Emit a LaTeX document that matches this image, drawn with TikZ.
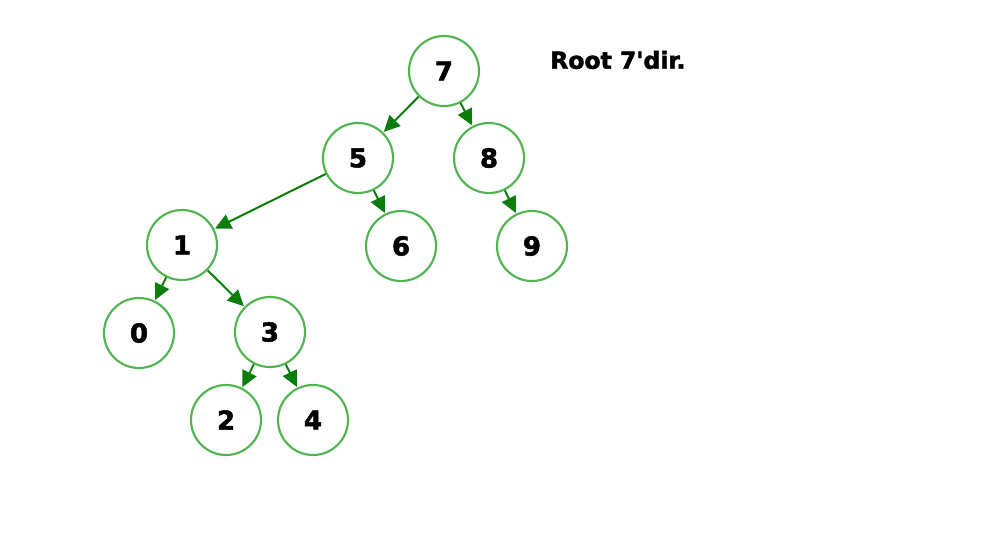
\documentclass[tikz,border=0pt]{standalone}
\usepackage{fontspec}
\newfontfamily\labelfont{DejaVu Sans}[BoldFeatures={FakeBold=2}]
\usetikzlibrary{arrows.meta}
\definecolor{ringgreen}{RGB}{80,180,80}
\definecolor{edgegreen}{RGB}{10,125,10}
\begin{document}
\begin{tikzpicture}[x=0.75pt,y=-0.75pt,
  treenode/.style={circle,draw=ringgreen,line width=1.6pt,fill=white,
    minimum size=52.5pt,inner sep=0pt,font=\labelfont\fontsize{19.5}{22}\selectfont\bfseries},
  link/.style={draw=edgegreen,line width=1.5pt,
    -{Triangle[length=12pt,width=11.5pt]},shorten >=0.5pt}]
\useasboundingbox[fill=white] (0,0) rectangle (992,546);
\node[treenode] (n7) at (444,71) {7};
\node[treenode] (n5) at (358,158) {5};
\node[treenode] (n8) at (489,158) {8};
\node[treenode] (n1) at (182,245) {1};
\node[treenode] (n6) at (401,246) {6};
\node[treenode] (n9) at (532,246) {9};
\node[treenode] (n0) at (139,333) {0};
\node[treenode] (n3) at (270,332) {3};
\node[treenode] (n2) at (226,420) {2};
\node[treenode] (n4) at (313,420) {4};
\node[font=\labelfont\fontsize{17.6}{20}\selectfont\bfseries,anchor=west,inner sep=0pt] (title) at (550,60) {Root 7'dir.};
\draw[link] (n7) -- (n5);
\draw[link] (n7) -- (n8);
\draw[link] (n5) -- (n1);
\draw[link] (n5) -- (n6);
\draw[link] (n8) -- (n9);
\draw[link] (n1) -- (n0);
\draw[link] (n1) -- (n3);
\draw[link] (n3) -- (n2);
\draw[link] (n3) -- (n4);
\end{tikzpicture}
\end{document}
